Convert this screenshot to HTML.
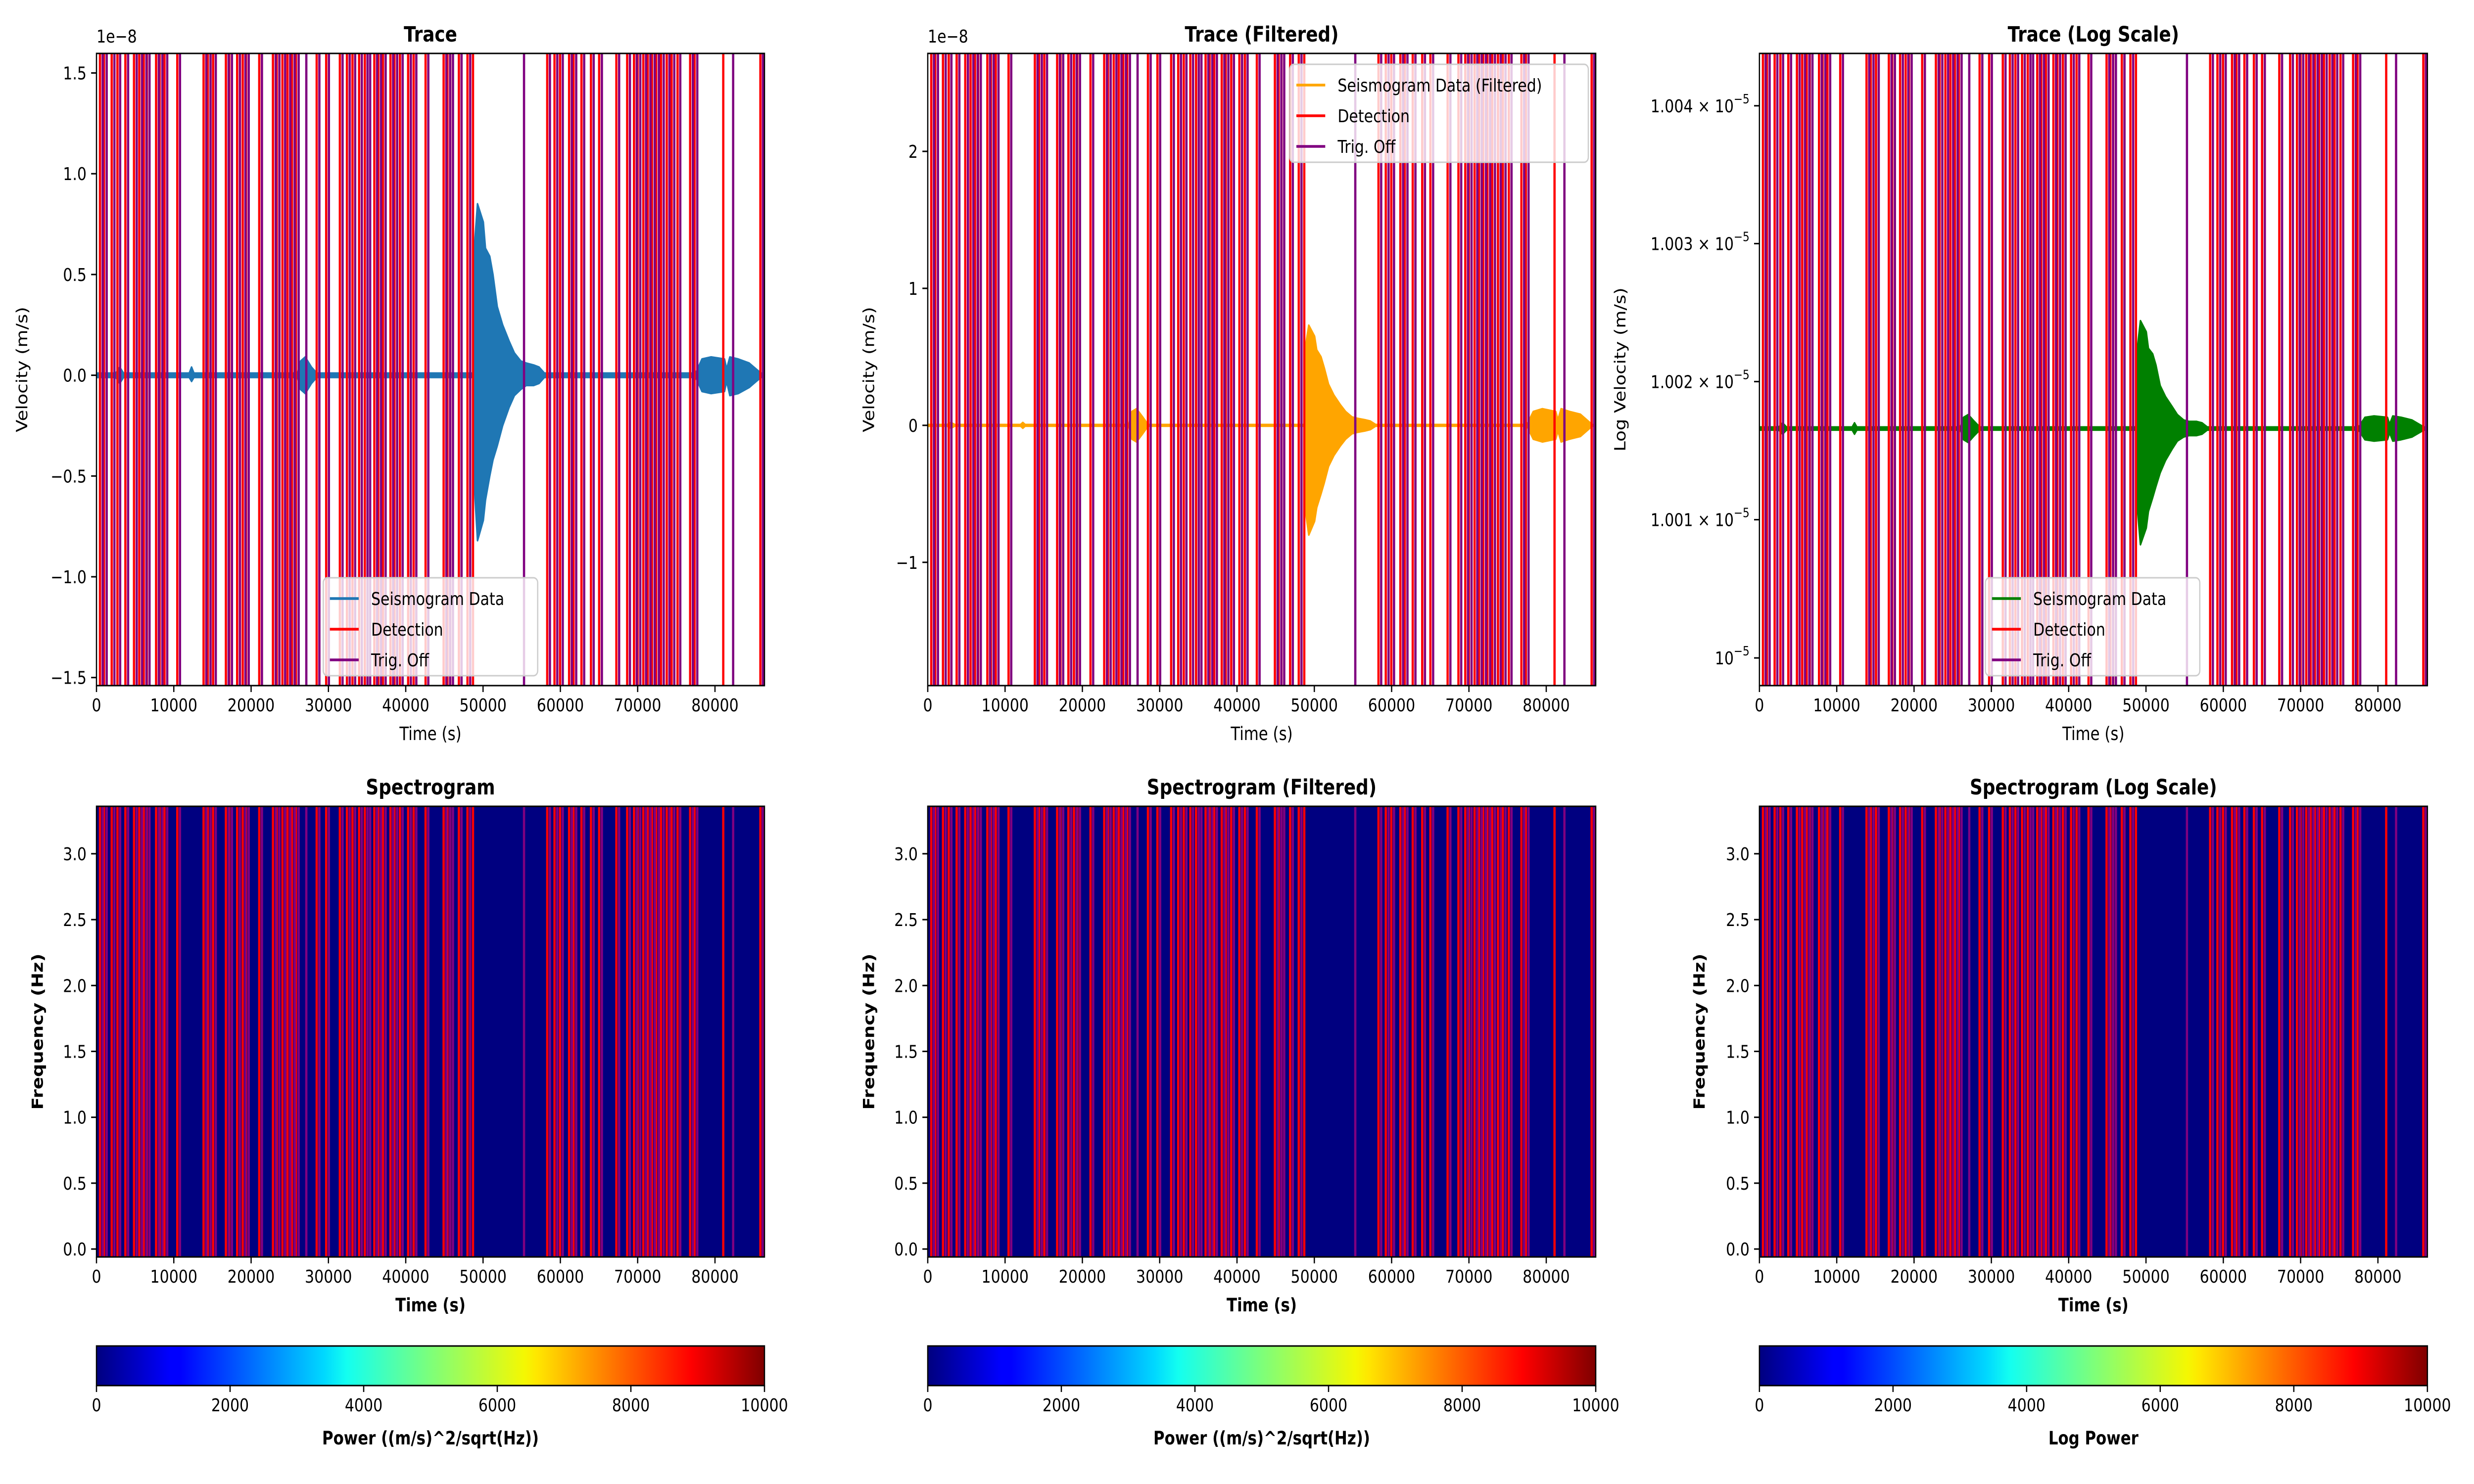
<!DOCTYPE html>
<html><head><meta charset="utf-8"><style>
html,body{margin:0;padding:0;background:#fff;overflow:hidden;width:100vw;height:100vh;}
svg{display:block;font-family:"DejaVu Sans","Liberation Sans",sans-serif;width:100vw;height:100vh;}
</style></head><body>
<svg id="fig" viewBox="0 0 6000 3000" preserveAspectRatio="none" xmlns="http://www.w3.org/2000/svg">
<defs>
<linearGradient id="jet" x1="0" x2="1" y1="0" y2="0">
<stop offset="0" stop-color="#00007f"/><stop offset="0.11" stop-color="#0000ff"/><stop offset="0.125" stop-color="#0000ff"/>
<stop offset="0.34" stop-color="#00d8ff"/><stop offset="0.375" stop-color="#13fff0"/><stop offset="0.5" stop-color="#7dff7a"/>
<stop offset="0.64" stop-color="#f4f802"/><stop offset="0.66" stop-color="#ffe600"/><stop offset="0.89" stop-color="#ff0000"/><stop offset="1" stop-color="#7f0000"/>
</linearGradient>
</defs>
</svg>
<script>
// ---- data ----
const detections = [453, 967, 1967, 2710, 3738, 4852, 5538, 6110, 6510, 7710, 8167, 8795, 10452, 13852, 14395, 15080, 16738, 17167, 18195, 18910, 19338, 21052, 22824, 23309, 24052, 24709, 25281, 25795, 28480, 29709, 31480, 32395, 33109, 33966, 34709, 35938, 36452, 37052, 38024, 38538, 39252, 40310, 41024, 42567, 44901, 45387, 45758, 46873, 47987, 48701, 58300, 59243, 59958, 61129, 61700, 62729, 63958, 65015, 67243, 68643, 69529, 69986, 70729, 71300, 71844, 72385, 73015, 73757, 74386, 75157, 76787, 77358, 81071, 85871];
const trigOffs = [800, 1320, 2320, 3060, 4090, 5200, 5890, 6460, 6860, 8060, 8520, 9150, 10800, 14200, 14750, 15430, 17090, 17520, 18550, 19260, 19690, 21400, 23180, 23660, 24400, 25060, 25630, 26150, 27140, 28830, 30060, 31830, 32750, 33460, 34320, 35060, 35400, 36290, 36800, 37400, 38370, 38890, 39600, 40660, 41370, 42920, 45250, 45740, 46110, 47220, 48340, 55300, 58650, 59600, 60310, 61480, 62050, 63080, 64310, 65370, 67600, 69000, 69880, 70340, 71080, 71650, 72200, 72740, 73370, 74110, 74740, 75510, 77140, 77710, 82350, 86200];
const envTimes = [0, 2500, 3000, 3500, 12000, 12300, 12600, 26000, 26400, 27000, 27800, 28500, 48700, 48923, 49283, 50032, 50310, 50864, 51280, 51835, 52528, 53360, 54053, 54885, 55578, 56549, 57242, 57935, 58767, 60000, 77500, 78318, 79500, 81230, 81507, 81923, 83000, 84419, 85944, 86400];
const rawUpper = [.01,.01,.04,.01,.01,.04,.01,.01,.07,.09,.04,.01,.01,.66,.85,.76,.63,.59,.5,.34,.25,.17,.11,.07,.06,.05,.04,.01,.01,.01,.01,.08,.09,.08,.03,.09,.08,.06,.01,.01];
const rawLower = [-.01,-.01,-.04,-.01,-.01,-.03,-.01,-.01,-.07,-.09,-.04,-.01,-.01,-.58,-.82,-.72,-.62,-.5,-.42,-.35,-.25,-.16,-.1,-.07,-.05,-.05,-.04,-.01,-.01,-.01,-.01,-.08,-.09,-.08,-.03,-.1,-.09,-.06,-.01,-.01];
const filtUpper = [.005,.005,.02,.005,.005,.02,.005,.005,.1,.12,.06,.005,.005,.6,.73,.65,.55,.5,.42,.3,.22,.15,.1,.06,.05,.04,.03,.005,.005,.005,.005,.1,.12,.1,.04,.12,.1,.08,.005,.005];
const filtLower = [-.005,-.005,-.02,-.005,-.005,-.02,-.005,-.005,-.1,-.12,-.06,-.005,-.005,-.65,-.8,-.7,-.6,-.5,-.42,-.3,-.22,-.15,-.1,-.06,-.05,-.04,-.03,-.005,-.005,-.005,-.005,-.1,-.12,-.1,-.04,-.12,-.1,-.08,-.005,-.005];
const logBaseline = 1001.66; // in 1e-8 m/s units (1.00166e-5)
const logUpper = [.01,.01,.04,.01,.01,.04,.01,.01,.08,.1,.05,.01,.01,.6,.78,.7,.58,.54,.46,.31,.23,.16,.1,.06,.05,.05,.04,.01,.01,.01,.01,.08,.09,.08,.03,.09,.08,.06,.01,.01];
const logLower = [-.01,-.01,-.04,-.01,-.01,-.04,-.01,-.01,-.08,-.1,-.05,-.01,-.01,-.6,-.84,-.72,-.6,-.5,-.42,-.32,-.23,-.15,-.09,-.06,-.05,-.05,-.04,-.01,-.01,-.01,-.01,-.08,-.09,-.08,-.03,-.09,-.08,-.06,-.01,-.01];
const xTicks = [0,10000,20000,30000,40000,50000,60000,70000,80000];
const rawYTicks = [-1.5,-1.0,-0.5,0.0,0.5,1.0,1.5];
const filtYTicks = [-1,0,1,2];
const logYTicks = [1000,1001,1002,1003,1004];
const logYLabels = ["10","1.001 × 10","1.002 × 10","1.003 × 10","1.004 × 10"];
const freqTicks = [0.0,0.5,1.0,1.5,2.0,2.5,3.0];
const cbTicks = [0,2000,4000,6000,8000,10000];

// ---- drawing ----
const NS="http://www.w3.org/2000/svg";
const svg=document.getElementById('fig');
function mk(tag,attrs,parent){const e=document.createElementNS(NS,tag);for(const k in attrs)e.setAttribute(k,attrs[k]);(parent||svg).appendChild(e);return e;}
function txt(s,x,y,size,anchor,weight,parent){const t=mk('text',{x:x,y:y,'font-size':size,'text-anchor':anchor||'middle','font-weight':weight||'normal',fill:'#000'},parent);t.textContent=s;return t;}

const XMAX=86400;
const cols=[234,2250,4267], W=1620;
const TOP0=108, TOP1=1386, BOT0=1630, BOT1=2541, CB0=2721, CB1=2801;
const LW=5.5;

function xs(c,t){return cols[c]+t/XMAX*W;}

function drawVLines(c,y0,y1,g){
  detections.forEach(t=>{const l=mk('line',{x1:xs(c,t),x2:xs(c,t),y1:y0,y2:y1,stroke:'#ff0000','stroke-width':LW},g);
    
    });
  trigOffs.forEach(t=>{const l=mk('line',{x1:xs(c,t),x2:xs(c,t),y1:y0,y2:y1,stroke:'#800080','stroke-width':LW},g);
    
    });
}
function xAxis(c,y1,labelBold,g){
  xTicks.forEach(v=>{const x=xs(c,v);mk('line',{x1:x,x2:x,y1:y1,y2:y1+13,stroke:'#000','stroke-width':3},g);
    const t=txt(String(v),x,y1+52,36,'middle','normal',g);
    
    });
  const l=txt('Time (s)',cols[c]+W/2,y1+110,37,'middle',labelBold?'bold':'normal',g);
  
  
}
function frame(c,y0,y1,g){mk('rect',{x:cols[c],y:y0,width:W,height:y1-y0,fill:'none',stroke:'#000','stroke-width':3},g);}

function legend(x,y,w,color,label,g){
  const lg=mk('g',{},g);
  
  
  mk('rect',{x:x,y:y,width:w,height:198,rx:10,fill:'#fff','fill-opacity':0.8,stroke:'#cccccc','stroke-width':3},lg);
  const items=[[color,label],['#ff0000','Detection'],['#800080','Trig. Off']];
  items.forEach((it,i)=>{const yy=y+42+i*62;
    const e=mk('g',{},lg);
    
    
    mk('line',{x1:x+16,x2:x+86,y1:yy,y2:yy,stroke:it[0],'stroke-width':LW},e);
    txt(it[1],x+116,yy+13,36,'start','normal',e);});
}

function tracePanel(c,title,color,upper,lower,ymap,yticks,ylabels,ytitle,legendPos,legendW,legendLabel){
  const g=mk('g',{});
  
  
  const clipId='clip'+c;
  const cp=mk('clipPath',{id:clipId},g);mk('rect',{x:cols[c],y:TOP0,width:W,height:TOP1-TOP0},cp);
  const inner=mk('g',{'clip-path':'url(#'+clipId+')'},g);
  let d='';
  envTimes.forEach((t,i)=>{d+=(i?'L':'M')+xs(c,t).toFixed(1)+','+ymap(upper[i]).toFixed(1);});
  for(let i=envTimes.length-1;i>=0;i--){d+='L'+xs(c,envTimes[i]).toFixed(1)+','+ymap(lower[i]).toFixed(1);}
  const wf=mk('path',{d:d+'Z',fill:color,stroke:color,'stroke-width':4,'stroke-linejoin':'round'},inner);
  
  
  drawVLines(c,TOP0,TOP1,inner);
  frame(c,TOP0,TOP1,g);
  yticks.forEach((v,i)=>{const y=ymap(v,true);mk('line',{x1:cols[c]-13,x2:cols[c],y1:y,y2:y,stroke:'#000','stroke-width':3},g);
    const t=txt(ylabels[i],cols[c]-24,y+13,36,'end','normal',g);
    
    
    if(c===2){const s=mk('tspan',{dy:-18,'font-size':26},t);s.textContent='−5';}
  });
  xAxis(c,TOP1,false,g);
  const tt=txt(title,cols[c]+W/2,84,43,'middle','bold',g);
  
  
  const yx=[66,2120,3942][c];
  const yt=txt(ytitle,yx,(TOP0+TOP1)/2,37,'middle','normal',g);
  yt.setAttribute('transform','rotate(-90 '+yx+' '+(TOP0+TOP1)/2+')');
  
  
  if(c<2){const o=txt('1e−8',cols[c],86,36,'start','normal',g);
    
    }
  legend(legendPos[0],legendPos[1],legendW,color,legendLabel,g);
}

function linMap(lo,hi){return v=>TOP1-(v-lo)/(hi-lo)*(TOP1-TOP0);}
const rawMap=linMap(-1.54,1.597);
const filtMap=linMap(-1.90,2.715);
const lLo=Math.log(999.80), lHi=Math.log(1004.38);
function logMap(v,isTick){const val=isTick?v:logBaseline+v;return TOP1-(Math.log(val)-lLo)/(lHi-lLo)*(TOP1-TOP0);}

tracePanel(0,'Trace','#1f77b4',rawUpper,rawLower,rawMap,rawYTicks,rawYTicks.map(v=>v.toFixed(1).replace('-','−')),'Velocity (m/s)',[784,1168],520,'Seismogram Data');
tracePanel(1,'Trace (Filtered)','#ffa500',filtUpper,filtLower,filtMap,filtYTicks,filtYTicks.map(v=>String(v).replace('-','−')),'Velocity (m/s)',[3128,130],724,'Seismogram Data (Filtered)');
tracePanel(2,'Trace (Log Scale)','#008000',logUpper,logLower,logMap,logYTicks,logYLabels,'Log Velocity (m/s)',[4815,1168],520,'Seismogram Data');

const specTitles=['Spectrogram','Spectrogram (Filtered)','Spectrogram (Log Scale)'];
const cbLabels=['Power ((m/s)^2/sqrt(Hz))','Power ((m/s)^2/sqrt(Hz))','Log Power'];
function fMap(v){return BOT1-(v+0.06)/3.42*(BOT1-BOT0);}
for(let c=0;c<3;c++){
  const g=mk('g',{});
  
  
  const clipId='sclip'+c;
  const cp=mk('clipPath',{id:clipId},g);mk('rect',{x:cols[c],y:BOT0,width:W,height:BOT1-BOT0},cp);
  const inner=mk('g',{'clip-path':'url(#'+clipId+')'},g);
  const bg=mk('rect',{x:cols[c],y:BOT0,width:W,height:BOT1-BOT0,fill:'#000080'},inner);
  
  
  drawVLines(c,BOT0,BOT1,inner);
  frame(c,BOT0,BOT1,g);
  freqTicks.forEach(v=>{const y=fMap(v);mk('line',{x1:cols[c]-13,x2:cols[c],y1:y,y2:y,stroke:'#000','stroke-width':3},g);
    const t=txt(v.toFixed(1),cols[c]-24,y+13,36,'end','normal',g);
    
    });
  xAxis(c,BOT1,true,g);
  const tt=txt(specTitles[c],cols[c]+W/2,1606,43,'middle','bold',g);
  
  
  const yx=[104,2120,4134][c];
  const yt=txt('Frequency (Hz)',yx,(BOT0+BOT1)/2,37,'middle','bold',g);
  yt.setAttribute('transform','rotate(-90 '+yx+' '+(BOT0+BOT1)/2+')');
  
  
  const cb=mk('g',{},g);
  
  
  mk('rect',{x:cols[c],y:CB0,width:W,height:CB1-CB0,fill:'url(#jet)',stroke:'#000','stroke-width':3},cb);
  cbTicks.forEach(v=>{const x=cols[c]+v/10000*W;mk('line',{x1:x,x2:x,y1:CB1,y2:CB1+13,stroke:'#000','stroke-width':3},cb);
    const t=txt(String(v),x,CB1+52,36,'middle','normal',cb);
    
    });
  const cl=txt(cbLabels[c],cols[c]+W/2,2920,37,'middle','bold',cb);
  
  
}
</script>
</body></html>
